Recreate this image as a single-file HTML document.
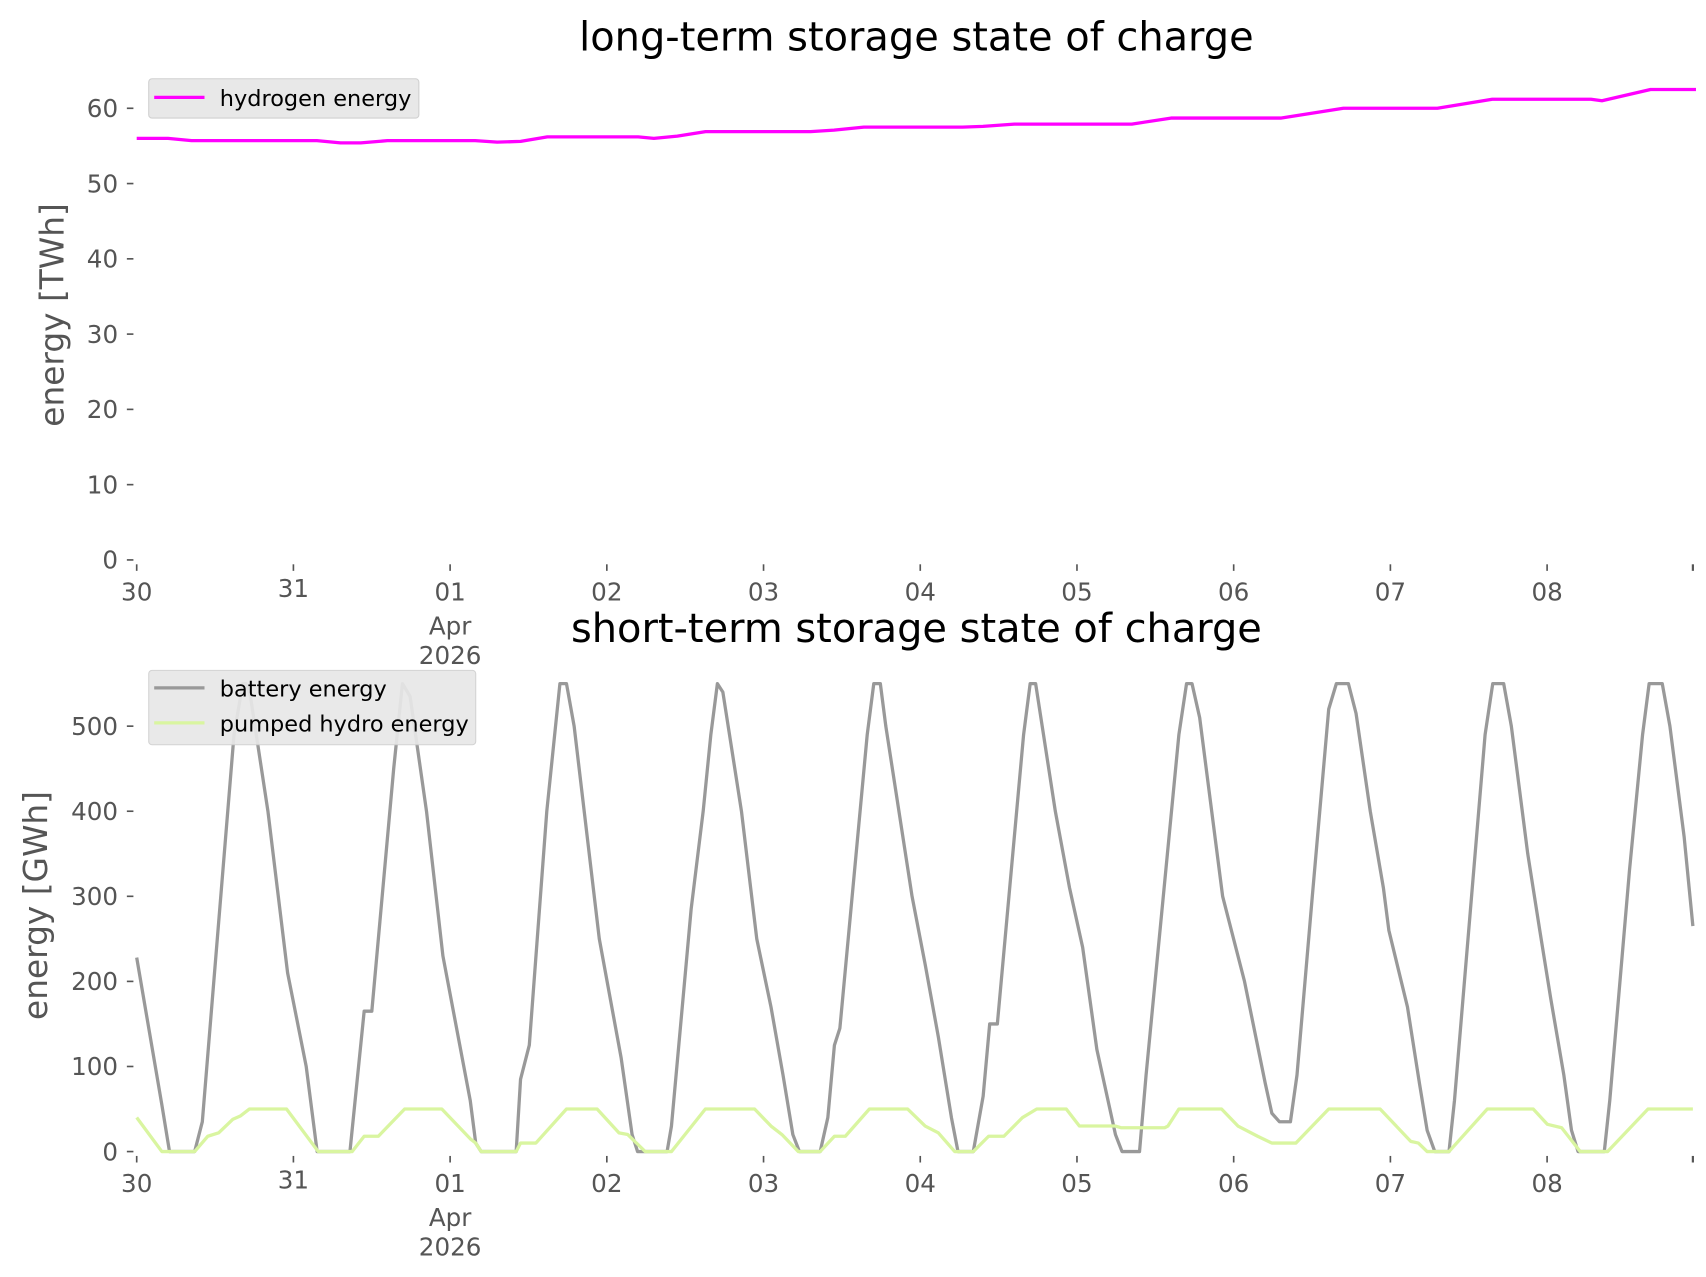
<!DOCTYPE html>
<html><head><meta charset="utf-8"><style>
html,body{margin:0;padding:0;background:#fff;}
svg{display:block;}
text{font-family:"DejaVu Sans","Liberation Sans",sans-serif;}
</style></head><body>
<svg id="s" width="1706" height="1277" viewBox="0 0 1560 1167.7" preserveAspectRatio="none" xmlns="http://www.w3.org/2000/svg">
<rect width="1560" height="1168" fill="#fff"/>
<g id="g"></g>
<text x="838" y="46" font-size="36.5" text-anchor="middle" fill="#000">long-term storage state of charge</text>
<text x="838" y="587" font-size="36.5" text-anchor="middle" fill="#000">short-term storage state of charge</text>
<text transform="translate(58,288) rotate(-90)" font-size="30" text-anchor="middle" fill="#555">energy [TWh]</text>
<text transform="translate(43,828) rotate(-90)" font-size="30" text-anchor="middle" fill="#555">energy [GWh]</text>
<rect x="136" y="72" width="247" height="36" rx="3" fill="#e8e8e8" stroke="#d0d0d0"/>
<line x1="141" y1="89" x2="187" y2="89" stroke="#ff00ff" stroke-width="3"/>
<text x="201" y="97" font-size="20.5" fill="#000">hydrogen energy</text>
<rect x="136" y="613" width="299" height="68" rx="3" fill="#e8e8e8" stroke="#d0d0d0" opacity="0.92"/>
<line x1="141" y1="629" x2="187" y2="629" stroke="#999" stroke-width="3"/>
<text x="201" y="637" font-size="20.5" fill="#000">battery energy</text>
<line x1="141" y1="661" x2="187" y2="661" stroke="#d9f5a0" stroke-width="3"/>
<text x="201" y="669" font-size="20.5" fill="#000">pumped hydro energy</text>
</svg>
<script>
var g=document.getElementById('g'),NS='http://www.w3.org/2000/svg';
function el(t,a,txt){var e=document.createElementNS(NS,t);for(var k in a)e.setAttribute(k,a[k]);if(txt!=null)e.textContent=txt;g.appendChild(e);return e;}
var X=function(d){return 125+143.3*d;};
var days=['30','31','01','02','03','04','05','06','07','08'];
var FS=22.5;
function xaxis(y0,yl){
 for(var i=0;i<10;i++){var x=X(i);el('line',{x1:x,y1:y0+4,x2:x,y2:y0+10,stroke:'#555','stroke-width':1.5});
  el('text',{x:x,y:yl+(i==1?-3:0),'font-size':FS,'text-anchor':'middle',fill:'#555'},days[i]);}
 el('line',{x1:1548,y1:y0+4,x2:1548,y2:y0+10,stroke:'#555','stroke-width':2});
 el('text',{x:X(2),y:yl+31,'font-size':FS,'text-anchor':'middle',fill:'#555'},'Apr');
 el('text',{x:X(2),y:yl+58,'font-size':FS,'text-anchor':'middle',fill:'#555'},'2026');
}
for(var v=0;v<=60;v+=10){var y=512-v*6.883;el('line',{x1:116,y1:y,x2:122,y2:y,stroke:'#555','stroke-width':1.5});
 el('text',{x:108,y:y+8,'font-size':FS,'text-anchor':'end',fill:'#555'},''+v);}
xaxis(512,549);
for(var v=0;v<=500;v+=100){var y=1053-v*0.778;el('line',{x1:116,y1:y,x2:122,y2:y,stroke:'#555','stroke-width':1.5});
 el('text',{x:108,y:y+8,'font-size':FS,'text-anchor':'end',fill:'#555'},''+v);}
xaxis(1053,1090);
var h=[[0,56],[0.2,56],[0.35,55.7],[1.15,55.7],[1.3,55.4],[1.43,55.4],[1.6,55.7],[2.16,55.7],[2.3,55.5],[2.45,55.6],[2.62,56.2],[3.2,56.2],[3.3,56.0],[3.45,56.3],[3.63,56.9],[4.3,56.9],[4.45,57.1],[4.64,57.5],[5.27,57.5],[5.4,57.6],[5.6,57.9],[6.35,57.9],[6.6,58.7],[7.3,58.7],[7.7,60],[8.3,60],[8.65,61.2],[9.28,61.2],[9.35,61.0],[9.66,62.5],[9.95,62.5]];
el('polyline',{points:h.map(function(p){return X(p[0])+','+(512-p[1]*6.883);}).join(' '),fill:'none',stroke:'#ff00ff','stroke-width':3,'stroke-linejoin':'round'});
var b=[[125,228],[148,55],[155,0],[178,0],[185,35],[214,490],[222,550],[225,550],[229,535],[245,400],[263,210],[280,100],[290,0],[320,0],[333,165],[340,165],[360,450],[368,550],[375,535],[390,400],[405,230],[430,60],[435,10],[440,0],[472,0],[476,85],[484,125],[500,400],[512,550],[518,550],[525,500],[548,250],[568,110],[578,20],[583,0],[610,0],[614,30],[632,285],[643,400],[650,490],[656,550],[661,540],[678,400],[692,250],[705,170],[716,90],[725,20],[731,0],[750,0],[757,40],[763,125],[768,145],[793,490],[799,550],[805,550],[810,500],[834,300],[846,220],[858,135],[870,40],[876,0],[890,0],[899,65],[905,150],[912,150],[936,490],[942,550],[947,550],[953,500],[965,400],[978,310],[990,240],[1003,120],[1020,20],[1026,0],[1042,0],[1048,90],[1078,490],[1085,550],[1090,550],[1097,510],[1118,300],[1138,200],[1157,80],[1163,45],[1170,35],[1180,35],[1186,90],[1200,300],[1215,520],[1222,550],[1233,550],[1240,515],[1253,400],[1265,310],[1270,260],[1287,170],[1298,80],[1305,25],[1312,0],[1325,0],[1330,60],[1358,490],[1365,550],[1375,550],[1382,500],[1397,350],[1408,260],[1418,180],[1430,90],[1437,25],[1443,0],[1467,0],[1472,60],[1490,330],[1502,490],[1508,550],[1520,550],[1527,500],[1540,370],[1548,265]];
var p=[[125,40],[148,0],[178,0],[190,18],[200,22],[213,38],[220,42],[228,50],[262,50],[291,0],[322,0],[333,18],[346,18],[370,50],[404,50],[430,15],[435,10],[440,0],[472,0],[476,10],[490,10],[518,50],[546,50],[566,22],[574,20],[590,0],[614,0],[645,50],[690,50],[705,30],[715,20],[730,0],[750,0],[763,18],[773,18],[795,50],[830,50],[846,30],[858,22],[873,0],[890,0],[904,18],[918,18],[935,40],[948,50],[975,50],[987,30],[1020,30],[1025,28],[1065,28],[1068,30],[1078,50],[1117,50],[1132,30],[1150,18],[1163,10],[1185,10],[1215,50],[1262,50],[1290,12],[1297,10],[1305,0],[1325,0],[1360,50],[1402,50],[1415,32],[1428,28],[1445,0],[1470,0],[1507,50],[1548,50]];
function pl(a,c){el('polyline',{points:a.map(function(q){return q[0]+','+(1053-q[1]*0.778);}).join(' '),fill:'none',stroke:c,'stroke-width':3,'stroke-linejoin':'round'});}
pl(b,'#999999');pl(p,'#d9f5a0');
</script>
</body></html>
